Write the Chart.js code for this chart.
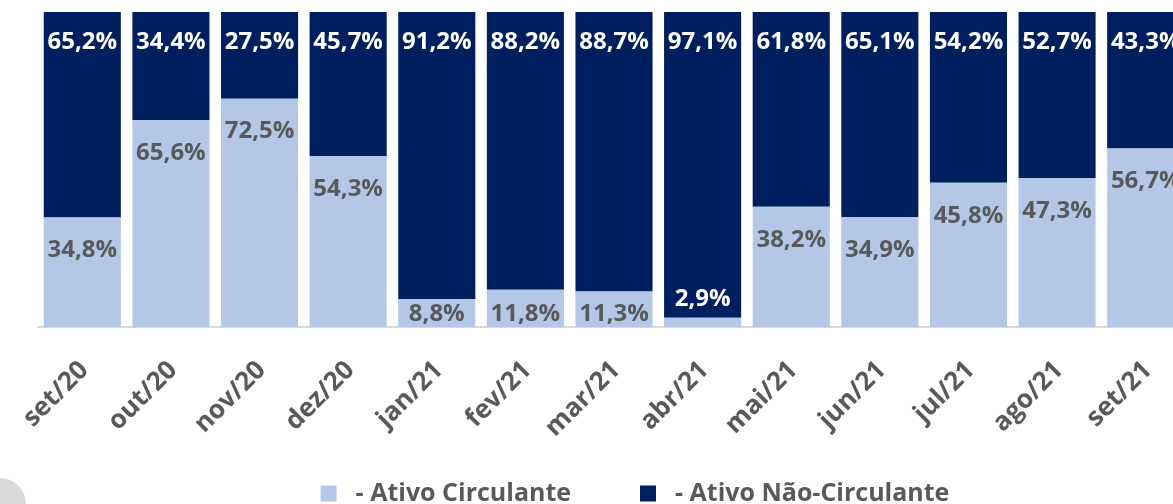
<!DOCTYPE html>
<html>
<head>
<meta charset="utf-8">
<script src="https://cdn.jsdelivr.net/npm/chart.js@4"></script>
<style>
  html, body { margin: 0; padding: 0; background: #fff; overflow: hidden; }
  #wrap { width: 1196px; height: 504px; position: relative; }
  #dot { position: absolute; left: -26px; top: 478px; width: 52px; height: 52px; border-radius: 50%; background: #d9d9d9; }
</style>
</head>
<body>
<div id="wrap"><canvas id="ativo-chart"></canvas></div>
<div id="dot"></div>
<script>
const categories = ["set/20", "out/20", "nov/20", "dez/20", "jan/21", "fev/21", "mar/21", "abr/21", "mai/21", "jun/21", "jul/21", "ago/21", "set/21"];
const circulante = [34.8, 65.6, 72.5, 54.3, 8.8, 11.8, 11.3, 2.9, 38.2, 34.9, 45.8, 47.3, 56.7];
const naoCirculante = [65.2, 34.4, 27.5, 45.7, 91.2, 88.2, 88.7, 97.1, 61.8, 65.1, 54.2, 52.7, 43.3];

const FONT = "'Open Sans', sans-serif";
const GRAY = "#595959";
const SP = "\u00a0";

function fmt(v) {
  return v.toFixed(1).replace(".", ",") + "%";
}

// labels drawn inside the bars, near the top of each segment
const barLabels = {
  id: "barLabels",
  afterDatasetsDraw(chart) {
    const ctx = chart.ctx;
    ctx.save();
    ctx.font = "bold 24px " + FONT;
    ctx.textAlign = "center";
    ctx.textBaseline = "middle";
    chart.data.datasets.forEach(function (ds, i) {
      const meta = chart.getDatasetMeta(i);
      meta.data.forEach(function (bar, j) {
        const v = ds.data[j];
        const top = Math.min(bar.y, bar.base);
        const bottom = Math.max(bar.y, bar.base);
        let y, color;
        if (i === 1) {
          y = top + 30;
          color = "#ffffff";
        } else if (v < 5) {
          y = top - 19;
          color = "#ffffff";
        } else {
          y = Math.min(top + 33, bottom - 13);
          color = GRAY;
        }
        ctx.fillStyle = color;
        ctx.fillText(fmt(v), bar.x, y);
      });
    });
    ctx.restore();
  }
};

// legend sits a little right of the plot centre and lower in the original
const legendShift = {
  id: "legendShift",
  afterLayout(chart) {
    chart.legend.left += 21;
    chart.legend.right += 21;
    chart.legend.top += 12;
    chart.legend.bottom += 12;
  }
};

new Chart(document.getElementById("ativo-chart").getContext("2d"), {
  type: "bar",
  data: {
    labels: categories,
    datasets: [
      {
        label: SP + "- Ativo Circulante" + SP.repeat(10),
        data: circulante,
        backgroundColor: "#b4c7e7",
        borderWidth: 0,
        barPercentage: 0.87,
        categoryPercentage: 1
      },
      {
        label: SP + "- Ativo Não-Circulante",
        data: naoCirculante,
        backgroundColor: "#001f5f",
        borderWidth: 0,
        barPercentage: 0.87,
        categoryPercentage: 1
      }
    ]
  },
  options: {
    responsive: true,
    maintainAspectRatio: false,
    animation: false,
    layout: {
      padding: { left: 38, top: 12, right: 6, bottom: 0 }
    },
    scales: {
      x: {
        stacked: true,
        grid: { display: false },
        border: { display: true, color: "#d9d9d9", width: 2 },
        afterFit: function (scale) { scale.height = 138; },
        ticks: {
          color: GRAY,
          maxRotation: 45,
          minRotation: 45,
          labelOffset: 2,
          padding: 20,
          font: { family: FONT, size: 26, weight: "bold" }
        }
      },
      y: {
        stacked: true,
        display: false,
        min: 0,
        max: 100
      }
    },
    plugins: {
      legend: {
        position: "bottom",
        labels: {
          color: GRAY,
          boxWidth: 16,
          boxHeight: 16,
          padding: 4,
          font: { family: FONT, size: 25, weight: "bold" }
        }
      },
      tooltip: { enabled: false }
    }
  },
  plugins: [barLabels, legendShift]
});
</script>
</body>
</html>
